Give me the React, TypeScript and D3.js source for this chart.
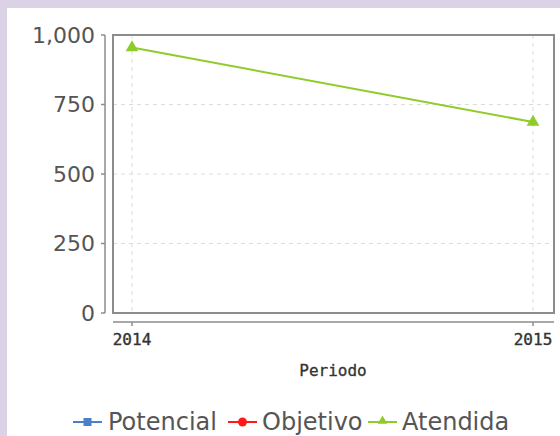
import React from "react";
import * as d3 from "d3";

const periods = [2014, 2015];
const potencial: number[] = [];
const objetivo: number[] = [];
const atendida = [955, 687];
const yTicks = [0, 250, 500, 750, 1000];
const seriesNames = ["Potencial", "Objetivo", "Atendida"];
const seriesColors = ["#4a80c8", "#ff1a1a", "#8fcc2a"];

export default function App() {
  const W = 560, H = 436;
  const x = d3.scaleLinear().domain([2014, 2015]).range([132, 533]);
  const y = d3.scaleLinear().domain([0, 1000]).range([313, 35]);
  const fmt = d3.format(",");
  const line = d3.line<number>().x((_, i) => x(periods[i])).y((d) => y(d));
  const tri = d3.symbol().type(d3.symbolTriangle).size(70)() as string;
  const triSmall = d3.symbol().type(d3.symbolTriangle).size(40)() as string;

  const legendX = [73, 228, 368];
  const legendTextX = [108, 262, 402];

  return (
    <svg width={W} height={H} style={{ position: "absolute", left: 0, top: 0 }}>
      <rect x={0} y={0} width={W} height={H} fill="#dbd2e6" />
      <rect x={7} y={8} width={W - 7} height={H - 8} fill="#ffffff" />
      {/* grid */}
      {yTicks.filter((t) => t > 0 && t < 1000).map((t) => (
        <line key={"gy" + t} x1={113} x2={554} y1={y(t)} y2={y(t)} stroke="#dcdcdc" strokeWidth={1} strokeDasharray="4,4" />
      ))}
      {periods.map((p) => (
        <line key={"gx" + p} x1={x(p)} x2={x(p)} y1={35} y2={313} stroke="#dcdcdc" strokeWidth={1} strokeDasharray="4,4" />
      ))}
      {/* frame */}
      <rect x={113} y={35} width={441} height={278} fill="none" stroke="#8c8c8c" strokeWidth={2} />
      {/* y axis */}
      <line x1={105} x2={105} y1={y(1000)} y2={y(0)} stroke="#8c8c8c" strokeWidth={1.5} />
      {yTicks.map((t) => (
        <g key={"yt" + t}>
          <line x1={101} x2={105} y1={y(t)} y2={y(t)} stroke="#8c8c8c" strokeWidth={1.5} />
          <text x={95} y={y(t)} dy="0.36em" textAnchor="end" fontFamily="DejaVu Sans" fontSize={22} fill="#555">
            {fmt(t)}
          </text>
        </g>
      ))}
      {/* x axis */}
      <line x1={113} x2={554} y1={322} y2={322} stroke="#8c8c8c" strokeWidth={1.5} />
      {periods.map((p) => (
        <g key={"xt" + p}>
          <line x1={x(p)} x2={x(p)} y1={322} y2={326} stroke="#8c8c8c" strokeWidth={1.5} />
          <text x={x(p)} y={345} textAnchor="middle" fontFamily="DejaVu Sans Mono" fontSize={16} fill="#333" stroke="#333" strokeWidth={0.4}>
            {p}
          </text>
        </g>
      ))}
      <text x={333} y={376} textAnchor="middle" fontFamily="DejaVu Sans Mono" fontSize={16} fill="#333" stroke="#333" strokeWidth={0.3}>
        Periodo
      </text>
      {/* series */}
      {potencial.length > 0 && <path d={line(potencial) || ""} fill="none" stroke={seriesColors[0]} strokeWidth={2} />}
      {objetivo.length > 0 && <path d={line(objetivo) || ""} fill="none" stroke={seriesColors[1]} strokeWidth={2} />}
      <path d={line(atendida) || ""} fill="none" stroke={seriesColors[2]} strokeWidth={2} />
      {atendida.map((v, i) => (
        <path key={"m" + i} d={tri} transform={`translate(${x(periods[i])},${y(v)})`} fill={seriesColors[2]} />
      ))}
      {/* legend */}
      {seriesNames.map((n, i) => (
        <g key={n}>
          <line x1={legendX[i]} x2={legendX[i] + 29} y1={422} y2={422} stroke={seriesColors[i]} strokeWidth={2} />
          {i === 0 && <rect x={legendX[i] + 14.5 - 4} y={418} width={8} height={8} fill={seriesColors[i]} />}
          {i === 1 && <circle cx={legendX[i] + 14.5} cy={422} r={4.5} fill={seriesColors[i]} />}
          {i === 2 && <path d={triSmall} transform={`translate(${legendX[i] + 14.5},${421})`} fill={seriesColors[i]} />}
          <text x={legendTextX[i]} y={430} fontFamily="DejaVu Sans" fontSize={24} fill="#555">
            {n}
          </text>
        </g>
      ))}
    </svg>
  );
}
